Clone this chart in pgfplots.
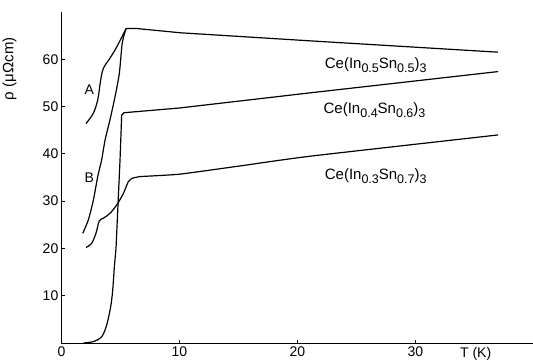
\documentclass[border=0pt]{standalone}
\usepackage{fontspec}
\setmainfont{Liberation Sans}
\usepackage{pgfplots}
\pgfplotsset{compat=1.18}
\newcommand\sub[1]{\raisebox{-0.5ex}{\fontsize{12.5}{13}\selectfont #1}}
\begin{document}
\begin{tikzpicture}[font=\fontsize{14}{16}\selectfont]
\useasboundingbox (-61.5pt,-21pt) rectangle (471.5pt,343pt);
\begin{axis}[
  at={(0,0)}, anchor=south west,
  scale only axis, width=472pt, height=331pt,
  xmin=0, xmax=40, ymin=0, ymax=70,
  axis lines=left,
  axis line style={-, line width=0.9pt},
  xtick={0,10,20,30}, ytick={10,20,30,40,50,60},
  tick align=inside, major tick length=3pt,
  tick style={black, line width=0.8pt},
  /pgf/number format/assume math mode=true,
  xticklabel style={inner sep=1pt, yshift=-3pt},
  yticklabel style={inner sep=1pt, xshift=-2pt},
  clip=false,
  curve/.style={black, line width=1.2pt, mark=none, solid},
]
% sample A (In0.5Sn0.5)
\addplot[curve, smooth, tension=0.5] coordinates {(2.08,46.4)(2.7,48.6)(3.07,51.4)(3.32,55.6)(3.55,58.1)(4.1,60.2)(4.68,62.6)(5.47,66.5)};
% sample B
\addplot[curve, smooth, tension=0.4] coordinates {(1.8,23.2)(2.27,26)(2.7,30.2)(3.07,35.2)(3.4,38.7)(3.69,42.9)(4.1,47.1)(4.53,52)(4.9,57)(5.15,63.5)(5.47,66.5)};
% common high-T part
\addplot[curve, sharp plot] coordinates {(5.47,66.5)(6.4,66.5)(10.1,65.6)(21.06,63.9)(37,61.5)};
% In0.4Sn0.6
\addplot[curve, smooth, tension=0.5] coordinates {(1.85,0)(2.7,0.3)(3.4,1.3)(3.83,3.8)(4.17,7.7)(4.34,11.2)(4.48,16.1)(4.62,20)};
\addplot[curve, sharp plot] coordinates {(4.62,20)(4.96,38.7)(5.1,48.2)(5.3,48.7)(10,49.7)(21.06,52.9)(37,57.4)};
% In0.3Sn0.7
\addplot[curve, smooth, tension=0.5] coordinates {(2.08,20.2)(2.56,21.1)(2.92,23.2)(3.2,25.8)(3.55,26.4)(4.1,27.4)(4.68,29.2)(5.24,31.6)(5.66,34.1)(5.95,34.8)(6.65,35.2)};
\addplot[curve, smooth, tension=0.3] coordinates {(6.65,35.2)(10,35.7)(15,37.4)(21.06,39.5)(37,44)};
\node at (axis cs:2.35,53.6) {A};
\node at (axis cs:2.35,35) {B};
\node[anchor=west, inner sep=0pt, font=\fontsize{15}{16}\selectfont] at (axis cs:22.3,58.8) {Ce(In\sub{0.5}Sn\sub{0.5})\sub{3}};
\node[anchor=west, inner sep=0pt, font=\fontsize{15}{16}\selectfont] at (axis cs:22.2,49.3) {Ce(In\sub{0.4}Sn\sub{0.6})\sub{3}};
\node[anchor=west, inner sep=0pt, font=\fontsize{15}{16}\selectfont] at (axis cs:22.3,35.2) {Ce(In\sub{0.3}Sn\sub{0.7})\sub{3}};
\node[anchor=north, inner sep=0pt] at (axis cs:35.1,-0.9) {T (K)};
\node[rotate=90, inner sep=0pt, font=\fontsize{15}{16}\selectfont] at (axis cs:-4.4,58) {ρ (μΩcm)};
\end{axis}
\end{tikzpicture}
\end{document}
